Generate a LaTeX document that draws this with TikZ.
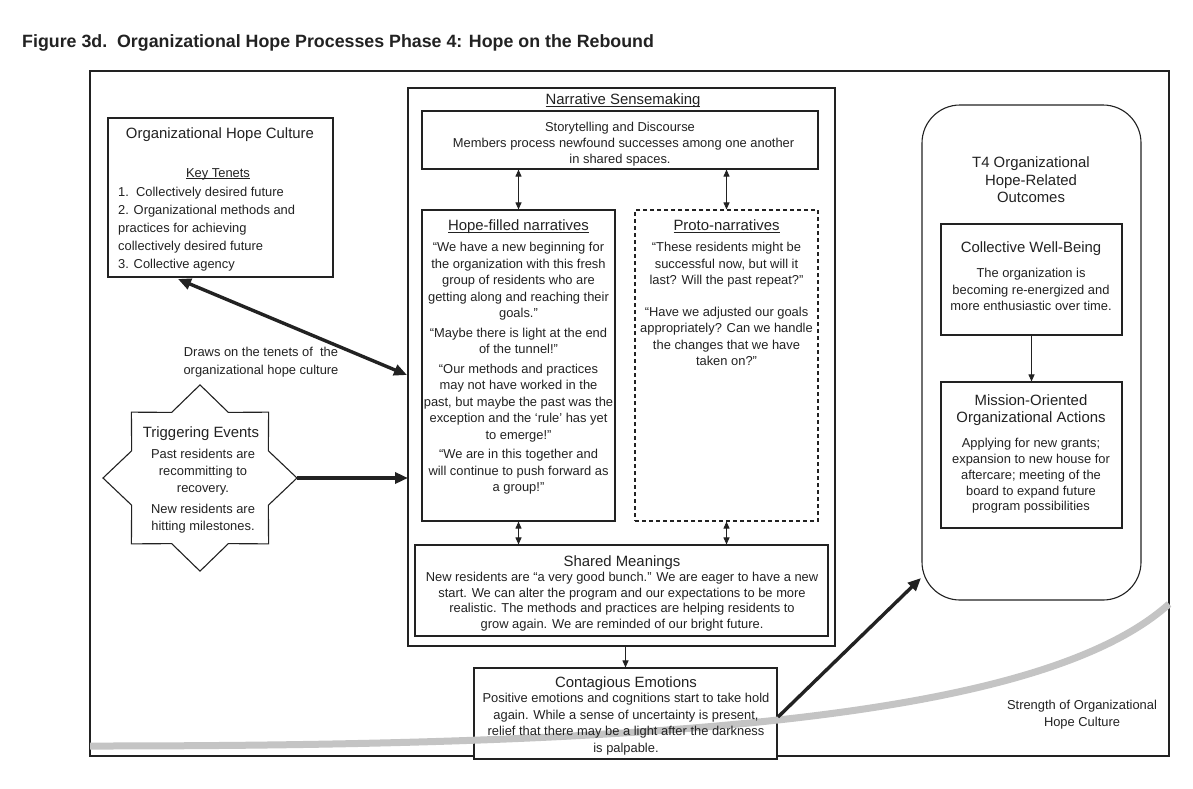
\documentclass[tikz,border=0pt]{standalone}
\usepackage{fontspec}
\setmainfont{Liberation Sans}
\usetikzlibrary{arrows.meta,fit}
\newcommand\ulin[1]{\underline{\raisebox{0pt}[\height][0pt]{#1}}}
\definecolor{ink}{HTML}{222222}
\definecolor{curvegray}{HTML}{C4C4C4}
\tikzset{
  box/.style={draw=ink, line width=1.1pt, inner sep=0pt},
  dbox/.style={box, dashed, dash pattern=on 4pt off 3pt},
  body/.style={font=\fontsize{12.9}{16.5}\selectfont, text=ink, inner sep=0pt, align=center, anchor=north},
  head/.style={font=\fontsize{14.9}{17.5}\selectfont, text=ink, inner sep=0pt, align=center, anchor=north},
  bigarr/.style={line width=3.4pt, draw=ink, -{Triangle[length=13pt,width=11pt]}},
  bigdbl/.style={line width=3.4pt, draw=ink, {Triangle[length=13pt,width=11pt]}-{Triangle[length=13pt,width=11pt]}},
  smarr/.style={line width=0.9pt, draw=ink, -{Triangle[length=7pt,width=6pt]}},
  smdbl/.style={line width=0.9pt, draw=ink, {Triangle[length=7pt,width=6pt]}-{Triangle[length=7pt,width=6pt]}},
}
\begin{document}
\begin{tikzpicture}[x=1pt,y=-1pt]
\useasboundingbox (0,0) rectangle (1193,788);
\fill[white] (0,0) rectangle (1193,788);

% title
\node[anchor=base west, inner sep=0pt, text=ink] (title) at (22,47)
  {\bfseries\fontsize{17.8}{20}\selectfont Figure 3d.\ \ Organizational Hope Processes Phase 4: Hope on the Rebound};

% outer frame
\node[box, fit={(90,71) (1169,756)}] (frame) {};

% left culture box
\node[box, fit={(108,118) (333,277)}] (ohc) {};
\node[head] (ohcT) at (220,127.5) {Organizational Hope Culture};
\node[body] (ktT) at (218,168.2) {\ulin{Key Tenets}};
\node[body, align=left, anchor=north west, font=\fontsize{12.9}{18}\selectfont] (ktL) at (118,187.2)
  {1.\ \ Collectively desired future\\2. Organizational methods and\\practices for achieving\\collectively desired future\\3. Collective agency};

\node[body, font=\fontsize{12.9}{18}\selectfont] (draws) at (261,347.2) {Draws on the tenets of\ \ the\\organizational hope culture};

% star
\begin{scope}[shift={(200,478)}, yscale=0.96]
\draw[box] (90:97) -- (67.5:74) -- (45:97) -- (22.5:74) -- (0:97) -- (-22.5:74) -- (-45:97) -- (-67.5:74)
  -- (-90:97) -- (-112.5:74) -- (-135:97) -- (-157.5:74) -- (180:97) -- (157.5:74) -- (135:97) -- (112.5:74) -- cycle;
\end{scope}
\coordinate (starR) at (297,478);
\node[head] (trigT) at (201,426.5) {Triggering Events};
\node[body, font=\fontsize{12.9}{17}\selectfont] (trigB) at (203,449.2)
  {Past residents are\\recommitting to\\recovery.\\[4pt]New residents are\\hitting milestones.};

% narrative sensemaking
\node[box, fit={(408,88) (835,646)}] (ns) {};
\node[head] (nsT) at (623,93.5) {\ulin{Narrative Sensemaking}};
\node[box, fit={(422,111) (818,169)}] (st) {};
\node[body, font=\fontsize{12.9}{16}\selectfont] (stT) at (620,122.2)
  {Storytelling and Discourse\\\ \ Members process newfound successes among one another\\in shared spaces.};

\node[box, fit={(422,210) (615,521)}] (hope) {};
\node[head] (hopeT) at (518.5,219.5) {\ulin{Hope-filled narratives}};
\node[body] (hopeB) at (518.5,242.2)
  {``We have a new beginning for\\the organization with this fresh\\group of residents who are\\getting along and reaching their\\goals.''\\[3pt]
   ``Maybe there is light at the end\\of the tunnel!''\\[3pt]
   ``Our methods and practices\\may not have worked in the\\past, but maybe the past was the\\exception and the `rule' has yet\\to emerge!''\\[3pt]
   ``We are in this together and\\will continue to push forward as\\a group!''};

\node[dbox, fit={(635,210) (818,521)}] (proto) {};
\node[head] (protoT) at (726.5,219.5) {\ulin{Proto-narratives}};
\node[body] (protoB) at (726.5,242.2)
  {``These residents might be\\successful now, but will it\\last? Will the past repeat?''\\[15pt]
   ``Have we adjusted our goals\\appropriately? Can we handle\\the changes that we have\\taken on?''};

\node[box, fit={(415,545) (828,636)}] (sm) {};
\node[head] (smT) at (622,555.5) {Shared Meanings};
\node[body, font=\fontsize{12.9}{15.5}\selectfont] (smB) at (622,572.2)
  {New residents are ``a very good bunch.'' We are eager to have a new\\start. We can alter the program and our expectations to be more\\realistic. The methods and practices are helping residents to\\grow again. We are reminded of our bright future.};

\draw[smdbl] (hope.north |- st.south) -- (hope.north);
\draw[smdbl] (proto.north |- st.south) -- (proto.north);
\draw[smdbl] (hope.south) -- (hope.south |- sm.north);
\draw[smdbl] (proto.south) -- (proto.south |- sm.north);

% contagious emotions
\node[box, fill=white, fit={(474,668) (777,759)}] (ce) {};
\draw[curvegray, line width=7pt] (90,746) .. controls (650,746) and (1040,720) .. (1169,604);
\node[head] (ceT) at (626,676.5) {Contagious Emotions};
\node[body] (ceB) at (626,693.2)
  {Positive emotions and cognitions start to take hold\\again. While a sense of uncertainty is present,\\relief that there may be a light after the darkness\\is palpable.};
\draw[smarr] (ce.north |- ns.south) -- (ce.north);

% right outcomes
\node[box, rounded corners=38pt, fit={(922,105) (1141,600)}] (t4) {};
\node[head] (t4T) at (1031,156.5) {T4 Organizational\\Hope-Related\\Outcomes};
\node[box, fit={(941,224) (1122,335)}] (cwb) {};
\node[head] (cwbT) at (1031,241.5) {Collective Well-Being};
\node[body] (cwbB) at (1031,268.2) {The organization is\\becoming re-energized and\\more enthusiastic over time.};
\node[box, fit={(941,382) (1122,528)}] (moa) {};
\node[head, font=\fontsize{14.9}{17}\selectfont] (moaT) at (1031,394.5) {Mission-Oriented\\Organizational Actions};
\node[body, font=\fontsize{12.9}{15.8}\selectfont] (moaB) at (1031,438.2)
  {Applying for new grants;\\expansion to new house for\\aftercare; meeting of the\\board to expand future\\program possibilities};
\draw[smarr] (cwb.south) -- (moa.north);

\node[body, font=\fontsize{12.9}{17}\selectfont] (strength) at (1082,700.2) {Strength of Organizational\\Hope Culture};

% big arrows
\coordinate (ohcOut) at (178,279);
\coordinate (nsInA) at (407,375);
\coordinate (nsInB) at (408,478);
\coordinate (ceOut) at (778,717);
\coordinate (t4In) at (921,578);
\draw[bigdbl] (ohcOut) -- (nsInA);
\draw[bigarr] (starR) -- (nsInB);
\draw[bigarr] (ceOut) -- (t4In);
\end{tikzpicture}
\end{document}
